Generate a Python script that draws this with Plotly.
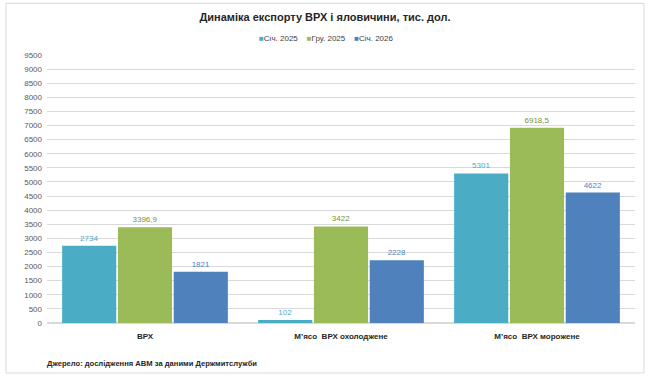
import plotly.graph_objects as go

categories = ["ВРХ", "М’ясо  ВРХ охолоджене", "М’ясо  ВРХ морожене"]
series_names = ["Січ. 2025", "Гру. 2025", "Січ. 2026"]
jan2025 = [2734, 102, 5301]
dec2025 = [3396.9, 3422, 6918.5]
jan2026 = [1821, 2228, 4622]
jan2025_labels = ["2734", "102", "5301"]
dec2025_labels = ["3396,9", "3422", "6918,5"]
jan2026_labels = ["1821", "2228", "4622"]
y_ticks = list(range(0, 10000, 500))

bar_colors = ["#4BACC6", "#9BBB59", "#4F81BD"]
label_colors = ["#4BACC6", "#76923C", "#4F81BD"]

FONT = "Liberation Sans"

fig = go.Figure()
for name, vals, labels, c, lc in zip(series_names, [jan2025, dec2025, jan2026],
                                     [jan2025_labels, dec2025_labels, jan2026_labels],
                                     bar_colors, label_colors):
    fig.add_trace(go.Bar(
        name=name, x=categories, y=vals, text=labels,
        textposition="outside", cliponaxis=False,
        textfont=dict(family=FONT, size=8, color=lc),
        marker=dict(color=c, line=dict(width=0)),
    ))

fig.update_layout(
    width=650, height=378,
    margin=dict(l=47, r=15, t=55, b=55),
    paper_bgcolor="white", plot_bgcolor="white",
    barmode="group", bargap=0.146, bargroupgap=0.03,
    font=dict(family=FONT, size=8, color="#595959"),
    title=dict(text="<b>Динаміка експорту ВРХ і яловичини, тис. дол.</b>",
               x=0.5, xanchor="center", y=1 - 17 / 378, yanchor="middle",
               font=dict(family=FONT, size=11, color="#262626")),
    showlegend=False,
)
fig.update_xaxes(showgrid=False, showline=False, ticks="", ticklabelstandoff=7,
                 tickfont=dict(family=FONT, size=8, color="#262626", weight="bold"))
fig.update_yaxes(range=[0, 9500], tickvals=y_ticks, showgrid=True, gridcolor="#D9D9D9",
                 gridwidth=1, zeroline=True, zerolinecolor="#D9D9D9", showline=False,
                 tickfont=dict(family=FONT, size=8, color="#595959"), ticklabelstandoff=4)

fig.add_shape(type="rect", xref="paper", yref="paper",
              x0=(6 - 47) / 588, x1=(644 - 47) / 588,
              y0=(323 - 373) / 268.3, y1=(323 - 3) / 268.3,
              line=dict(color="#D9D9D9", width=1), fillcolor="rgba(0,0,0,0)", layer="below")

legend_text = "&nbsp;&nbsp;&nbsp;&nbsp;".join(
    f"<span style='color:{c}'>■</span>{n}" for n, c in zip(series_names, bar_colors))
fig.add_annotation(text=legend_text, xref="paper", yref="paper",
                   x=(326 - 47) / 588, y=(323 - 38) / 268.3,
                   xanchor="center", yanchor="middle", showarrow=False,
                   font=dict(family=FONT, size=8, color="#404040"))

fig.add_annotation(text="<b>Джерело: дослідження АВМ за даними Держмитслужби</b>",
                   xref="paper", yref="paper", x=(45 - 47) / 588, y=(323 - 364) / 268.3,
                   xanchor="left", yanchor="middle", showarrow=False,
                   font=dict(family=FONT, size=7.6, color="#262626"))

fig.write_html("out.html", config={"displayModeBar": False},
               post_script="document.body.style.margin='0';")
